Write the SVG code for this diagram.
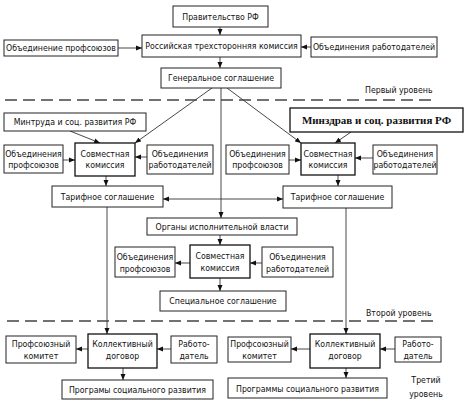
<svg xmlns="http://www.w3.org/2000/svg" width="473" height="404" viewBox="0 0 473 404">
<defs>
<marker id="ah" markerUnits="userSpaceOnUse" markerWidth="6" markerHeight="6" refX="6" refY="3" orient="auto-start-reverse">
<path d="M0,0.5 L6,3 L0,5.5 z" fill="#111"/>
</marker>
<style>
rect{fill:#fff;stroke:#222;stroke-width:1}
rect.b{stroke:#111;stroke-width:1.3}
text{font-family:"DejaVu Sans Condensed","Liberation Sans",sans-serif;font-size:8.7px;fill:#111;text-anchor:middle}
text.l{text-anchor:start}
text.s{font-family:"Liberation Serif",serif;font-weight:bold;font-size:11px}
.c line,.c path{stroke:#333;stroke-width:0.9;fill:none}
.c .a{marker-end:url(#ah)}
.c .d{marker-end:url(#ah);marker-start:url(#ah)}
.dash{stroke:#444;stroke-width:1.3;stroke-dasharray:12,6}
</style>
</defs>
<rect x="0" y="0" width="473" height="404" style="fill:#fff;stroke:none"/>

<g class="c" id="connectors">
<line class="a" x1="220" y1="27" x2="220" y2="35"/>
<line class="a" x1="220" y1="57" x2="220" y2="68"/>
<line class="a" x1="118" y1="48" x2="142" y2="48"/>
<line class="a" x1="311" y1="47" x2="301" y2="47"/>
<line class="a" x1="212" y1="88" x2="135" y2="143"/>
<line class="a" x1="227" y1="88" x2="301" y2="143"/>
<line class="a" x1="221" y1="88" x2="221" y2="218"/>
<line class="a" x1="70" y1="131" x2="100" y2="143"/>
<line class="a" x1="351" y1="132" x2="335" y2="143"/>
<line class="a" x1="63" y1="160" x2="75" y2="160"/>
<line class="a" x1="147" y1="157" x2="135" y2="157"/>
<line class="a" x1="106" y1="176" x2="106" y2="186"/>
<line class="a" x1="289" y1="160" x2="301" y2="160"/>
<line class="a" x1="373" y1="158" x2="355" y2="158"/>
<line class="a" x1="338" y1="175" x2="338" y2="186"/>
<line class="d" x1="163" y1="199" x2="283" y2="199"/>
<line class="a" x1="220" y1="235" x2="220" y2="245"/>
<line class="a" x1="190" y1="263" x2="175" y2="263"/>
<line class="a" x1="262" y1="263" x2="250" y2="263"/>
<line class="a" x1="220" y1="278" x2="220" y2="291"/>
<line class="a" x1="107" y1="207" x2="107" y2="334"/>
<line class="a" x1="346" y1="208" x2="346" y2="334"/>
<line class="a" x1="88" y1="349" x2="76" y2="349"/>
<line class="a" x1="171" y1="349" x2="157" y2="349"/>
<line class="a" x1="123" y1="368" x2="123" y2="380"/>
<line class="a" x1="310" y1="349" x2="291" y2="349"/>
<line class="a" x1="395" y1="349" x2="380" y2="349"/>
<line class="a" x1="346" y1="368" x2="346" y2="378"/>
</g>

<line class="dash" x1="5" y1="100" x2="436" y2="100"/>
<line class="dash" x1="7" y1="321" x2="438" y2="321"/>
<text class="l" x="365" y="93">Первый уровень</text>
<text class="l" x="366" y="316">Второй уровень</text>
<g id="level3"><text x="426" y="383">Третий</text><text x="426" y="397">уровень</text></g>

<g id="gov"><rect x="173" y="6" width="95" height="21"/><text x="220.5" y="19.5">Правительство РФ</text></g>
<g id="rtk"><rect x="142" y="35" width="159" height="22"/><text x="221.5" y="49">Российская трехсторонняя комиссия</text></g>
<g id="prof1"><rect x="4" y="40" width="114" height="16"/><text x="61" y="51">Объединение профсоюзов</text></g>
<g id="emp1"><rect x="311" y="37" width="126" height="20"/><text x="374" y="50">Объединения работодателей</text></g>
<g id="gen"><rect x="161" y="68" width="120" height="20"/><text x="221" y="81">Генеральное соглашение</text></g>

<g id="mintrud"><rect x="4" y="113" width="142" height="18"/><text x="75" y="125">Минтруда и соц. развития РФ</text></g>
<g id="lprof"><rect x="4" y="145" width="59" height="28"/><text x="33.5" y="157">Объединения</text><text x="33.5" y="168">профсоюзов</text></g>
<g id="lsk"><rect class="b" x="75" y="143" width="60" height="33"/><text x="105" y="157">Совместная</text><text x="105" y="168">комиссия</text></g>
<g id="lemp"><rect x="147" y="145" width="66" height="29"/><text x="180" y="157">Объединения</text><text x="180" y="168">работодателей</text></g>
<g id="ltar"><rect x="52" y="186" width="111" height="21"/><text x="107.5" y="199.5">Тарифное соглашение</text></g>

<g id="minzdrav"><rect class="b" x="290" y="108" width="173" height="24"/><text class="s" x="376.5" y="124">Минздрав и соц. развития РФ</text></g>
<g id="rprof"><rect x="226" y="145" width="63" height="29"/><text x="257.5" y="157">Объединения</text><text x="257.5" y="168">профсоюзов</text></g>
<g id="rsk"><rect class="b" x="301" y="143" width="54" height="32"/><text x="328" y="157">Совместная</text><text x="328" y="168">комиссия</text></g>
<g id="remp"><rect x="373" y="145" width="64" height="29"/><text x="405" y="157">Объединения</text><text x="405" y="168">работодателей</text></g>
<g id="rtar"><rect x="283" y="186" width="109" height="22"/><text x="337.5" y="200">Тарифное соглашение</text></g>

<g id="organs"><rect x="147" y="218" width="150" height="17"/><text x="222" y="229.5">Органы исполнительной власти</text></g>
<g id="cprof"><rect x="115" y="247" width="60" height="30"/><text x="145" y="260">Объединения</text><text x="145" y="271.5">профсоюзов</text></g>
<g id="csk"><rect class="b" x="190" y="245" width="60" height="33"/><text x="220" y="259">Совместная</text><text x="220" y="271">комиссия</text></g>
<g id="cemp"><rect x="262" y="247" width="71" height="30"/><text x="297.5" y="260">Объединения</text><text x="297.5" y="271.5">работодателей</text></g>
<g id="spec"><rect x="160" y="291" width="126" height="20"/><text x="223" y="304">Специальное соглашение</text></g>

<g id="lprofkom"><rect x="6" y="336" width="70" height="27"/><text x="41" y="347">Профсоюзный</text><text x="41" y="358.5">комитет</text></g>
<g id="lkd"><rect class="b" x="88" y="334" width="69" height="34"/><text x="122.5" y="347">Коллективный</text><text x="122.5" y="359">договор</text></g>
<g id="lrab"><rect x="171" y="336" width="46" height="27"/><text x="194" y="347">Работо-</text><text x="194" y="358.5">датель</text></g>
<g id="lprog"><rect x="62" y="380" width="151" height="19"/><text x="137.5" y="392.5">Програмы социального развития</text></g>

<g id="rprofkom"><rect x="228" y="337" width="63" height="25"/><text x="259.5" y="347">Профсоюзный</text><text x="259.5" y="358.5">комитет</text></g>
<g id="rkd"><rect class="b" x="310" y="334" width="70" height="34"/><text x="345" y="347">Коллективный</text><text x="345" y="359">договор</text></g>
<g id="rrab"><rect x="395" y="337" width="46" height="25"/><text x="418" y="347">Работо-</text><text x="418" y="358.5">датель</text></g>
<g id="rprog"><rect x="228" y="378" width="159" height="20"/><text x="307.5" y="391.5">Программы социального развития</text></g>
</svg>
